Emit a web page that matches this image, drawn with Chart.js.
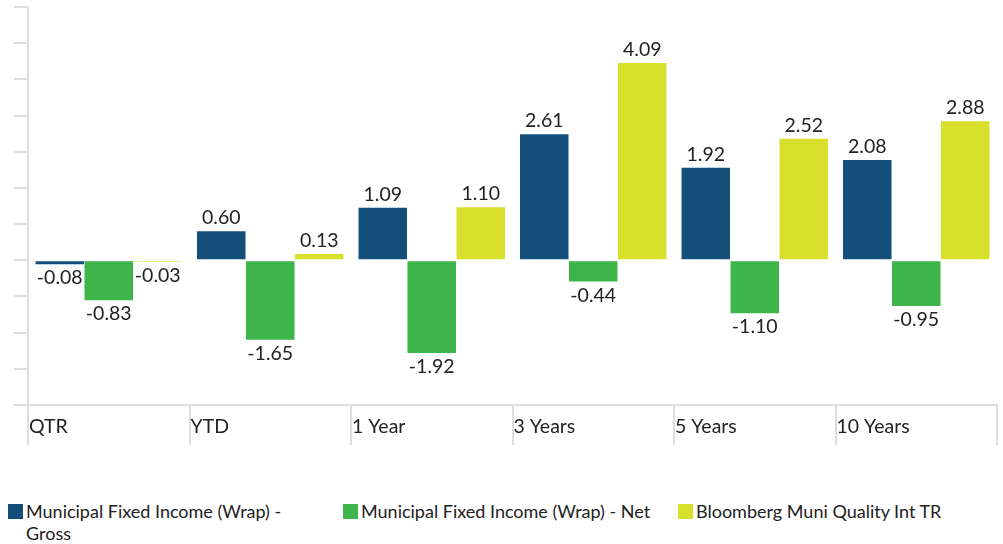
<!DOCTYPE html>
<html>
<head>
<meta charset="utf-8">
<script src="https://cdn.jsdelivr.net/npm/chart.js@4/dist/chart.umd.min.js"></script>
<style>
  body { margin: 0; background: #fff; font-family: Lato, sans-serif; }
  #wrap { position: relative; width: 1003px; height: 450px; }
  #legend { display: flex; align-items: flex-start; padding-left: 8px; margin-top: 50px; font-size: 18px; color: #222; line-height: 22px; }
  .item { display: flex; align-items: flex-start; }
  .box { width: 15px; height: 15px; margin-top: 4px; margin-right: 3px; flex: none; }
</style>
</head>
<body>
<div id="wrap"><canvas id="chart"></canvas></div>
<div id="legend"></div>
<script>
const categories = ['QTR', 'YTD', '1 Year', '3 Years', '5 Years', '10 Years'];
const seriesNames = ['Municipal Fixed Income (Wrap) - Gross', 'Municipal Fixed Income (Wrap) - Net', 'Bloomberg Muni Quality Int TR'];
const grossValues = [-0.08, 0.60, 1.09, 2.61, 1.92, 2.08];
const netValues = [-0.83, -1.65, -1.92, -0.44, -1.10, -0.95];
const indexValues = [-0.03, 0.13, 1.10, 4.09, 2.52, 2.88];
const colors = ['#134f7a', '#3db54b', '#d9e02b'];

const gridColor = '#dedede';

// value labels above / below each bar
const barLabels = {
  id: 'barLabels',
  afterDatasetsDraw(chart) {
    const ctx = chart.ctx;
    ctx.save();
    ctx.font = '19.5px Lato';
    ctx.fillStyle = '#222';
    ctx.textAlign = 'center';
    chart.data.datasets.forEach((ds, i) => {
      chart.getDatasetMeta(i).data.forEach((bar, j) => {
        const v = ds.data[j];
        if (v >= 0) {
          ctx.textBaseline = 'alphabetic';
          ctx.fillText(v.toFixed(2), bar.x, bar.y - 7);
        } else {
          ctx.textBaseline = 'top';
          ctx.fillText(v.toFixed(2), bar.x, bar.y + 4);
        }
      });
    });
    ctx.restore();
  }
};

// category labels, left aligned inside the tick area
const catLabels = {
  id: 'catLabels',
  afterDraw(chart) {
    const x = chart.scales.x;
    const ctx = chart.ctx;
    const half = (x.getPixelForValue(1) - x.getPixelForValue(0)) / 2;
    ctx.save();
    ctx.font = '19.5px Lato';
    ctx.fillStyle = '#222';
    ctx.textAlign = 'left';
    ctx.textBaseline = 'middle';
    categories.forEach((c, i) => {
      ctx.fillText(c, x.getPixelForValue(i) - half + 1, x.top + 22);
    });
    ctx.restore();
  }
};

new Chart(document.getElementById('chart'), {
  type: 'bar',
  data: {
    labels: categories,
    datasets: [grossValues, netValues, indexValues].map((d, i) => ({
      label: seriesNames[i],
      data: d,
      backgroundColor: colors[i],
      borderWidth: 0,
      categoryPercentage: 0.91,
      barPercentage: 0.99
    }))
  },
  options: {
    responsive: true,
    maintainAspectRatio: false,
    animation: false,
    layout: { padding: { top: 7, left: 14, right: 6, bottom: 5 } },
    plugins: { legend: { display: false }, tooltip: { enabled: false } },
    scales: {
      x: {
        ticks: { display: false },
        grid: { drawOnChartArea: false, tickLength: 40, color: gridColor, lineWidth: 2 },
        border: { color: gridColor, width: 2 }
      },
      y: {
        min: -3,
        max: 5.25,
        ticks: { display: false, stepSize: 0.75 },
        grid: { drawOnChartArea: false, tickLength: 14, color: gridColor, lineWidth: 2 },
        border: { color: gridColor, width: 2 }
      }
    }
  },
  plugins: [barLabels, catLabels]
});

const legend = document.getElementById('legend');
const widths = [335, 335, 320];
seriesNames.forEach((name, i) => {
  const item = document.createElement('div');
  item.className = 'item';
  item.style.width = widths[i] + 'px';
  const box = document.createElement('span');
  box.className = 'box';
  box.style.background = colors[i];
  const txt = document.createElement('span');
  txt.textContent = name;
  if (i === 0) txt.style.maxWidth = '270px';
  item.appendChild(box);
  item.appendChild(txt);
  legend.appendChild(item);
});
</script>
</body>
</html>
